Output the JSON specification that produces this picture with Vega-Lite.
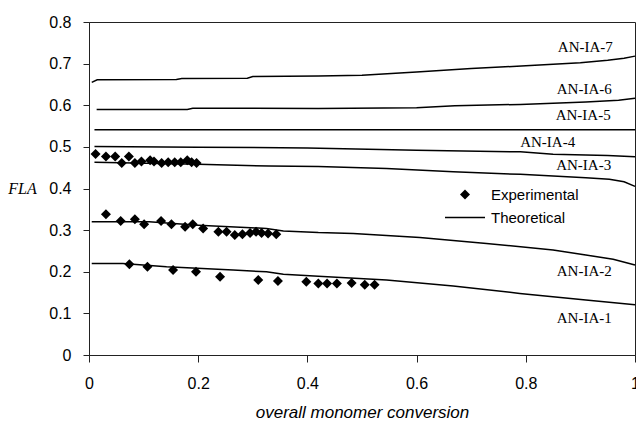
{
  "$schema": "https://vega.github.io/schema/vega-lite/v6.json",
  "width": 546,
  "height": 333,
  "autosize": {"type": "none"},
  "padding": {"left": 89, "top": 22, "right": 1, "bottom": 68},
  "background": "white",
  "config": {
    "view": {"stroke": "#222", "strokeWidth": 1},
    "axis": {
      "grid": false,
      "domainColor": "#222",
      "tickColor": "#222",
      "labelColor": "black",
      "titleColor": "black",
      "labelFont": "Liberation Sans",
      "labelFontSize": 16,
      "labelFlush": false,
      "labelOverlap": false
    }
  },
  "datasets": {
    "theory": [
      {"curve": "AN-IA-7", "kind": "Theoretical", "x": 0.005, "y": 0.655},
      {"curve": "AN-IA-7", "kind": "Theoretical", "x": 0.015, "y": 0.661},
      {"curve": "AN-IA-7", "kind": "Theoretical", "x": 0.16, "y": 0.662},
      {"curve": "AN-IA-7", "kind": "Theoretical", "x": 0.17, "y": 0.664},
      {"curve": "AN-IA-7", "kind": "Theoretical", "x": 0.29, "y": 0.665},
      {"curve": "AN-IA-7", "kind": "Theoretical", "x": 0.3, "y": 0.669},
      {"curve": "AN-IA-7", "kind": "Theoretical", "x": 0.42, "y": 0.670},
      {"curve": "AN-IA-7", "kind": "Theoretical", "x": 0.5, "y": 0.672},
      {"curve": "AN-IA-7", "kind": "Theoretical", "x": 0.6, "y": 0.680},
      {"curve": "AN-IA-7", "kind": "Theoretical", "x": 0.7, "y": 0.688},
      {"curve": "AN-IA-7", "kind": "Theoretical", "x": 0.8, "y": 0.695},
      {"curve": "AN-IA-7", "kind": "Theoretical", "x": 0.9, "y": 0.702},
      {"curve": "AN-IA-7", "kind": "Theoretical", "x": 0.95, "y": 0.708},
      {"curve": "AN-IA-7", "kind": "Theoretical", "x": 0.98, "y": 0.713},
      {"curve": "AN-IA-7", "kind": "Theoretical", "x": 1.0, "y": 0.718},
      {"curve": "AN-IA-6", "kind": "Theoretical", "x": 0.014, "y": 0.590},
      {"curve": "AN-IA-6", "kind": "Theoretical", "x": 0.18, "y": 0.590},
      {"curve": "AN-IA-6", "kind": "Theoretical", "x": 0.19, "y": 0.593},
      {"curve": "AN-IA-6", "kind": "Theoretical", "x": 0.42, "y": 0.592},
      {"curve": "AN-IA-6", "kind": "Theoretical", "x": 0.6, "y": 0.594},
      {"curve": "AN-IA-6", "kind": "Theoretical", "x": 0.67, "y": 0.599},
      {"curve": "AN-IA-6", "kind": "Theoretical", "x": 0.79, "y": 0.602},
      {"curve": "AN-IA-6", "kind": "Theoretical", "x": 0.91, "y": 0.608},
      {"curve": "AN-IA-6", "kind": "Theoretical", "x": 0.97, "y": 0.612},
      {"curve": "AN-IA-6", "kind": "Theoretical", "x": 1.0, "y": 0.617},
      {"curve": "AN-IA-5", "kind": "Theoretical", "x": 0.01, "y": 0.541},
      {"curve": "AN-IA-5", "kind": "Theoretical", "x": 1.0, "y": 0.541},
      {"curve": "AN-IA-4", "kind": "Theoretical", "x": 0.01, "y": 0.501},
      {"curve": "AN-IA-4", "kind": "Theoretical", "x": 0.2, "y": 0.499},
      {"curve": "AN-IA-4", "kind": "Theoretical", "x": 0.4, "y": 0.4975},
      {"curve": "AN-IA-4", "kind": "Theoretical", "x": 0.6, "y": 0.492},
      {"curve": "AN-IA-4", "kind": "Theoretical", "x": 0.79, "y": 0.488},
      {"curve": "AN-IA-4", "kind": "Theoretical", "x": 0.85, "y": 0.482},
      {"curve": "AN-IA-4", "kind": "Theoretical", "x": 0.95, "y": 0.479},
      {"curve": "AN-IA-4", "kind": "Theoretical", "x": 1.0, "y": 0.476},
      {"curve": "AN-IA-3", "kind": "Theoretical", "x": 0.01, "y": 0.463},
      {"curve": "AN-IA-3", "kind": "Theoretical", "x": 0.2, "y": 0.458},
      {"curve": "AN-IA-3", "kind": "Theoretical", "x": 0.33, "y": 0.454},
      {"curve": "AN-IA-3", "kind": "Theoretical", "x": 0.42, "y": 0.453},
      {"curve": "AN-IA-3", "kind": "Theoretical", "x": 0.545, "y": 0.448},
      {"curve": "AN-IA-3", "kind": "Theoretical", "x": 0.667, "y": 0.440},
      {"curve": "AN-IA-3", "kind": "Theoretical", "x": 0.79, "y": 0.434},
      {"curve": "AN-IA-3", "kind": "Theoretical", "x": 0.91, "y": 0.426},
      {"curve": "AN-IA-3", "kind": "Theoretical", "x": 0.953, "y": 0.422},
      {"curve": "AN-IA-3", "kind": "Theoretical", "x": 0.98, "y": 0.416},
      {"curve": "AN-IA-3", "kind": "Theoretical", "x": 1.0, "y": 0.405},
      {"curve": "AN-IA-2", "kind": "Theoretical", "x": 0.005, "y": 0.320},
      {"curve": "AN-IA-2", "kind": "Theoretical", "x": 0.11, "y": 0.320},
      {"curve": "AN-IA-2", "kind": "Theoretical", "x": 0.2, "y": 0.312},
      {"curve": "AN-IA-2", "kind": "Theoretical", "x": 0.325, "y": 0.304},
      {"curve": "AN-IA-2", "kind": "Theoretical", "x": 0.356, "y": 0.298},
      {"curve": "AN-IA-2", "kind": "Theoretical", "x": 0.42, "y": 0.294},
      {"curve": "AN-IA-2", "kind": "Theoretical", "x": 0.484, "y": 0.292},
      {"curve": "AN-IA-2", "kind": "Theoretical", "x": 0.606, "y": 0.282},
      {"curve": "AN-IA-2", "kind": "Theoretical", "x": 0.728, "y": 0.268},
      {"curve": "AN-IA-2", "kind": "Theoretical", "x": 0.85, "y": 0.252},
      {"curve": "AN-IA-2", "kind": "Theoretical", "x": 0.91, "y": 0.240},
      {"curve": "AN-IA-2", "kind": "Theoretical", "x": 0.96, "y": 0.230},
      {"curve": "AN-IA-2", "kind": "Theoretical", "x": 1.0, "y": 0.216},
      {"curve": "AN-IA-1", "kind": "Theoretical", "x": 0.005, "y": 0.220},
      {"curve": "AN-IA-1", "kind": "Theoretical", "x": 0.062, "y": 0.220},
      {"curve": "AN-IA-1", "kind": "Theoretical", "x": 0.142, "y": 0.212},
      {"curve": "AN-IA-1", "kind": "Theoretical", "x": 0.264, "y": 0.204},
      {"curve": "AN-IA-1", "kind": "Theoretical", "x": 0.325, "y": 0.200},
      {"curve": "AN-IA-1", "kind": "Theoretical", "x": 0.356, "y": 0.194},
      {"curve": "AN-IA-1", "kind": "Theoretical", "x": 0.42, "y": 0.189},
      {"curve": "AN-IA-1", "kind": "Theoretical", "x": 0.545, "y": 0.180},
      {"curve": "AN-IA-1", "kind": "Theoretical", "x": 0.667, "y": 0.166},
      {"curve": "AN-IA-1", "kind": "Theoretical", "x": 0.789, "y": 0.148},
      {"curve": "AN-IA-1", "kind": "Theoretical", "x": 0.91, "y": 0.132},
      {"curve": "AN-IA-1", "kind": "Theoretical", "x": 1.0, "y": 0.121}
    ],
    "experiment": [
      {"set": "AN-IA-3", "kind": "Experimental", "x": 0.012, "y": 0.483},
      {"set": "AN-IA-3", "kind": "Experimental", "x": 0.031, "y": 0.477},
      {"set": "AN-IA-3", "kind": "Experimental", "x": 0.048, "y": 0.477},
      {"set": "AN-IA-3", "kind": "Experimental", "x": 0.060, "y": 0.461},
      {"set": "AN-IA-3", "kind": "Experimental", "x": 0.073, "y": 0.477},
      {"set": "AN-IA-3", "kind": "Experimental", "x": 0.084, "y": 0.461},
      {"set": "AN-IA-3", "kind": "Experimental", "x": 0.096, "y": 0.465},
      {"set": "AN-IA-3", "kind": "Experimental", "x": 0.112, "y": 0.468},
      {"set": "AN-IA-3", "kind": "Experimental", "x": 0.119, "y": 0.465},
      {"set": "AN-IA-3", "kind": "Experimental", "x": 0.133, "y": 0.461},
      {"set": "AN-IA-3", "kind": "Experimental", "x": 0.145, "y": 0.463},
      {"set": "AN-IA-3", "kind": "Experimental", "x": 0.157, "y": 0.463},
      {"set": "AN-IA-3", "kind": "Experimental", "x": 0.168, "y": 0.463},
      {"set": "AN-IA-3", "kind": "Experimental", "x": 0.180, "y": 0.468},
      {"set": "AN-IA-3", "kind": "Experimental", "x": 0.188, "y": 0.463},
      {"set": "AN-IA-3", "kind": "Experimental", "x": 0.197, "y": 0.461},
      {"set": "AN-IA-2", "kind": "Experimental", "x": 0.031, "y": 0.338},
      {"set": "AN-IA-2", "kind": "Experimental", "x": 0.058, "y": 0.322},
      {"set": "AN-IA-2", "kind": "Experimental", "x": 0.084, "y": 0.326},
      {"set": "AN-IA-2", "kind": "Experimental", "x": 0.101, "y": 0.314},
      {"set": "AN-IA-2", "kind": "Experimental", "x": 0.132, "y": 0.322},
      {"set": "AN-IA-2", "kind": "Experimental", "x": 0.151, "y": 0.314},
      {"set": "AN-IA-2", "kind": "Experimental", "x": 0.176, "y": 0.308},
      {"set": "AN-IA-2", "kind": "Experimental", "x": 0.190, "y": 0.314},
      {"set": "AN-IA-2", "kind": "Experimental", "x": 0.209, "y": 0.304},
      {"set": "AN-IA-2", "kind": "Experimental", "x": 0.237, "y": 0.296},
      {"set": "AN-IA-2", "kind": "Experimental", "x": 0.252, "y": 0.296},
      {"set": "AN-IA-2", "kind": "Experimental", "x": 0.267, "y": 0.288},
      {"set": "AN-IA-2", "kind": "Experimental", "x": 0.281, "y": 0.290},
      {"set": "AN-IA-2", "kind": "Experimental", "x": 0.295, "y": 0.293},
      {"set": "AN-IA-2", "kind": "Experimental", "x": 0.306, "y": 0.296},
      {"set": "AN-IA-2", "kind": "Experimental", "x": 0.316, "y": 0.293},
      {"set": "AN-IA-2", "kind": "Experimental", "x": 0.328, "y": 0.292},
      {"set": "AN-IA-2", "kind": "Experimental", "x": 0.343, "y": 0.290},
      {"set": "AN-IA-1", "kind": "Experimental", "x": 0.074, "y": 0.218},
      {"set": "AN-IA-1", "kind": "Experimental", "x": 0.107, "y": 0.212},
      {"set": "AN-IA-1", "kind": "Experimental", "x": 0.154, "y": 0.204},
      {"set": "AN-IA-1", "kind": "Experimental", "x": 0.196, "y": 0.200},
      {"set": "AN-IA-1", "kind": "Experimental", "x": 0.240, "y": 0.188},
      {"set": "AN-IA-1", "kind": "Experimental", "x": 0.310, "y": 0.180},
      {"set": "AN-IA-1", "kind": "Experimental", "x": 0.346, "y": 0.178},
      {"set": "AN-IA-1", "kind": "Experimental", "x": 0.398, "y": 0.176},
      {"set": "AN-IA-1", "kind": "Experimental", "x": 0.420, "y": 0.172},
      {"set": "AN-IA-1", "kind": "Experimental", "x": 0.436, "y": 0.172},
      {"set": "AN-IA-1", "kind": "Experimental", "x": 0.454, "y": 0.172},
      {"set": "AN-IA-1", "kind": "Experimental", "x": 0.481, "y": 0.173},
      {"set": "AN-IA-1", "kind": "Experimental", "x": 0.505, "y": 0.169},
      {"set": "AN-IA-1", "kind": "Experimental", "x": 0.523, "y": 0.169}
    ],
    "labels": [
      {"label": "AN-IA-7", "x": 0.909, "y": 0.741},
      {"label": "AN-IA-6", "x": 0.907, "y": 0.640},
      {"label": "AN-IA-5", "x": 0.905, "y": 0.576},
      {"label": "AN-IA-4", "x": 0.840, "y": 0.512},
      {"label": "AN-IA-3", "x": 0.906, "y": 0.456},
      {"label": "AN-IA-2", "x": 0.907, "y": 0.202},
      {"label": "AN-IA-1", "x": 0.907, "y": 0.090}
    ]
  },
  "encoding": {
    "x": {
      "field": "x",
      "type": "quantitative",
      "scale": {"domain": [0, 1], "nice": false, "zero": false},
      "axis": {
        "values": [0, 0.2, 0.4, 0.6, 0.8, 1],
        "format": "~g",
        "tickSize": 7,
        "labelPadding": 13,
        "title": "overall monomer conversion",
        "titleFont": "Liberation Sans",
        "titleFontStyle": "italic",
        "titleFontWeight": "normal",
        "titleFontSize": 17,
        "titleY": 57,
        "titleBaseline": "middle"
      }
    },
    "y": {
      "field": "y",
      "type": "quantitative",
      "scale": {"domain": [0, 0.8], "nice": false, "zero": false},
      "axis": {
        "values": [0, 0.1, 0.2, 0.3, 0.4, 0.5, 0.6, 0.7, 0.8],
        "format": "~g",
        "tickSize": 6,
        "labelPadding": 12,
        "title": "FLA",
        "titleAngle": 0,
        "titleX": -67,
        "titleY": 166,
        "titleAlign": "center",
        "titleBaseline": "middle",
        "titleFont": "Liberation Serif",
        "titleFontStyle": "italic",
        "titleFontWeight": "normal",
        "titleFontSize": 16
      }
    }
  },
  "layer": [
    {
      "data": {"name": "theory"},
      "mark": {"type": "line", "strokeWidth": 1.5},
      "encoding": {
        "detail": {"field": "curve", "type": "nominal"},
        "color": {
          "field": "kind",
          "type": "nominal",
          "scale": {"domain": ["Experimental", "Theoretical"], "range": ["black", "black"]},
          "legend": {
            "orient": "none",
            "legendX": 368.5,
            "legendY": 165,
            "title": null,
            "padding": 0,
            "labelFont": "Liberation Sans",
            "labelFontSize": 15,
            "labelColor": "black",
            "symbolSize": 1600,
            "labelOffset": 18.5,
            "rowPadding": 7,
            "encode": {
              "symbols": {
                "update": {
                  "shape": {"signal": "datum.value === 'Experimental' ? 'diamond' : 'stroke'"},
                  "size": {"signal": "datum.value === 'Experimental' ? 100 : 1600"},
                  "fill": {"signal": "datum.value === 'Experimental' ? 'black' : 'transparent'"},
                  "stroke": {"value": "black"},
                  "strokeWidth": {"signal": "datum.value === 'Experimental' ? 0 : 1.5"},
                  "opacity": {"value": 1}
                }
              }
            }
          }
        }
      }
    },
    {
      "data": {"name": "experiment"},
      "mark": {"type": "point", "shape": "diamond", "filled": true, "size": 100, "opacity": 1, "strokeWidth": 0},
      "encoding": {
        "color": {"field": "kind", "type": "nominal"}
      }
    },
    {
      "data": {"name": "labels"},
      "mark": {"type": "text", "font": "Liberation Serif", "fontSize": 15, "align": "center", "baseline": "middle", "color": "black"},
      "encoding": {
        "text": {"field": "label", "type": "nominal"}
      }
    }
  ]
}
